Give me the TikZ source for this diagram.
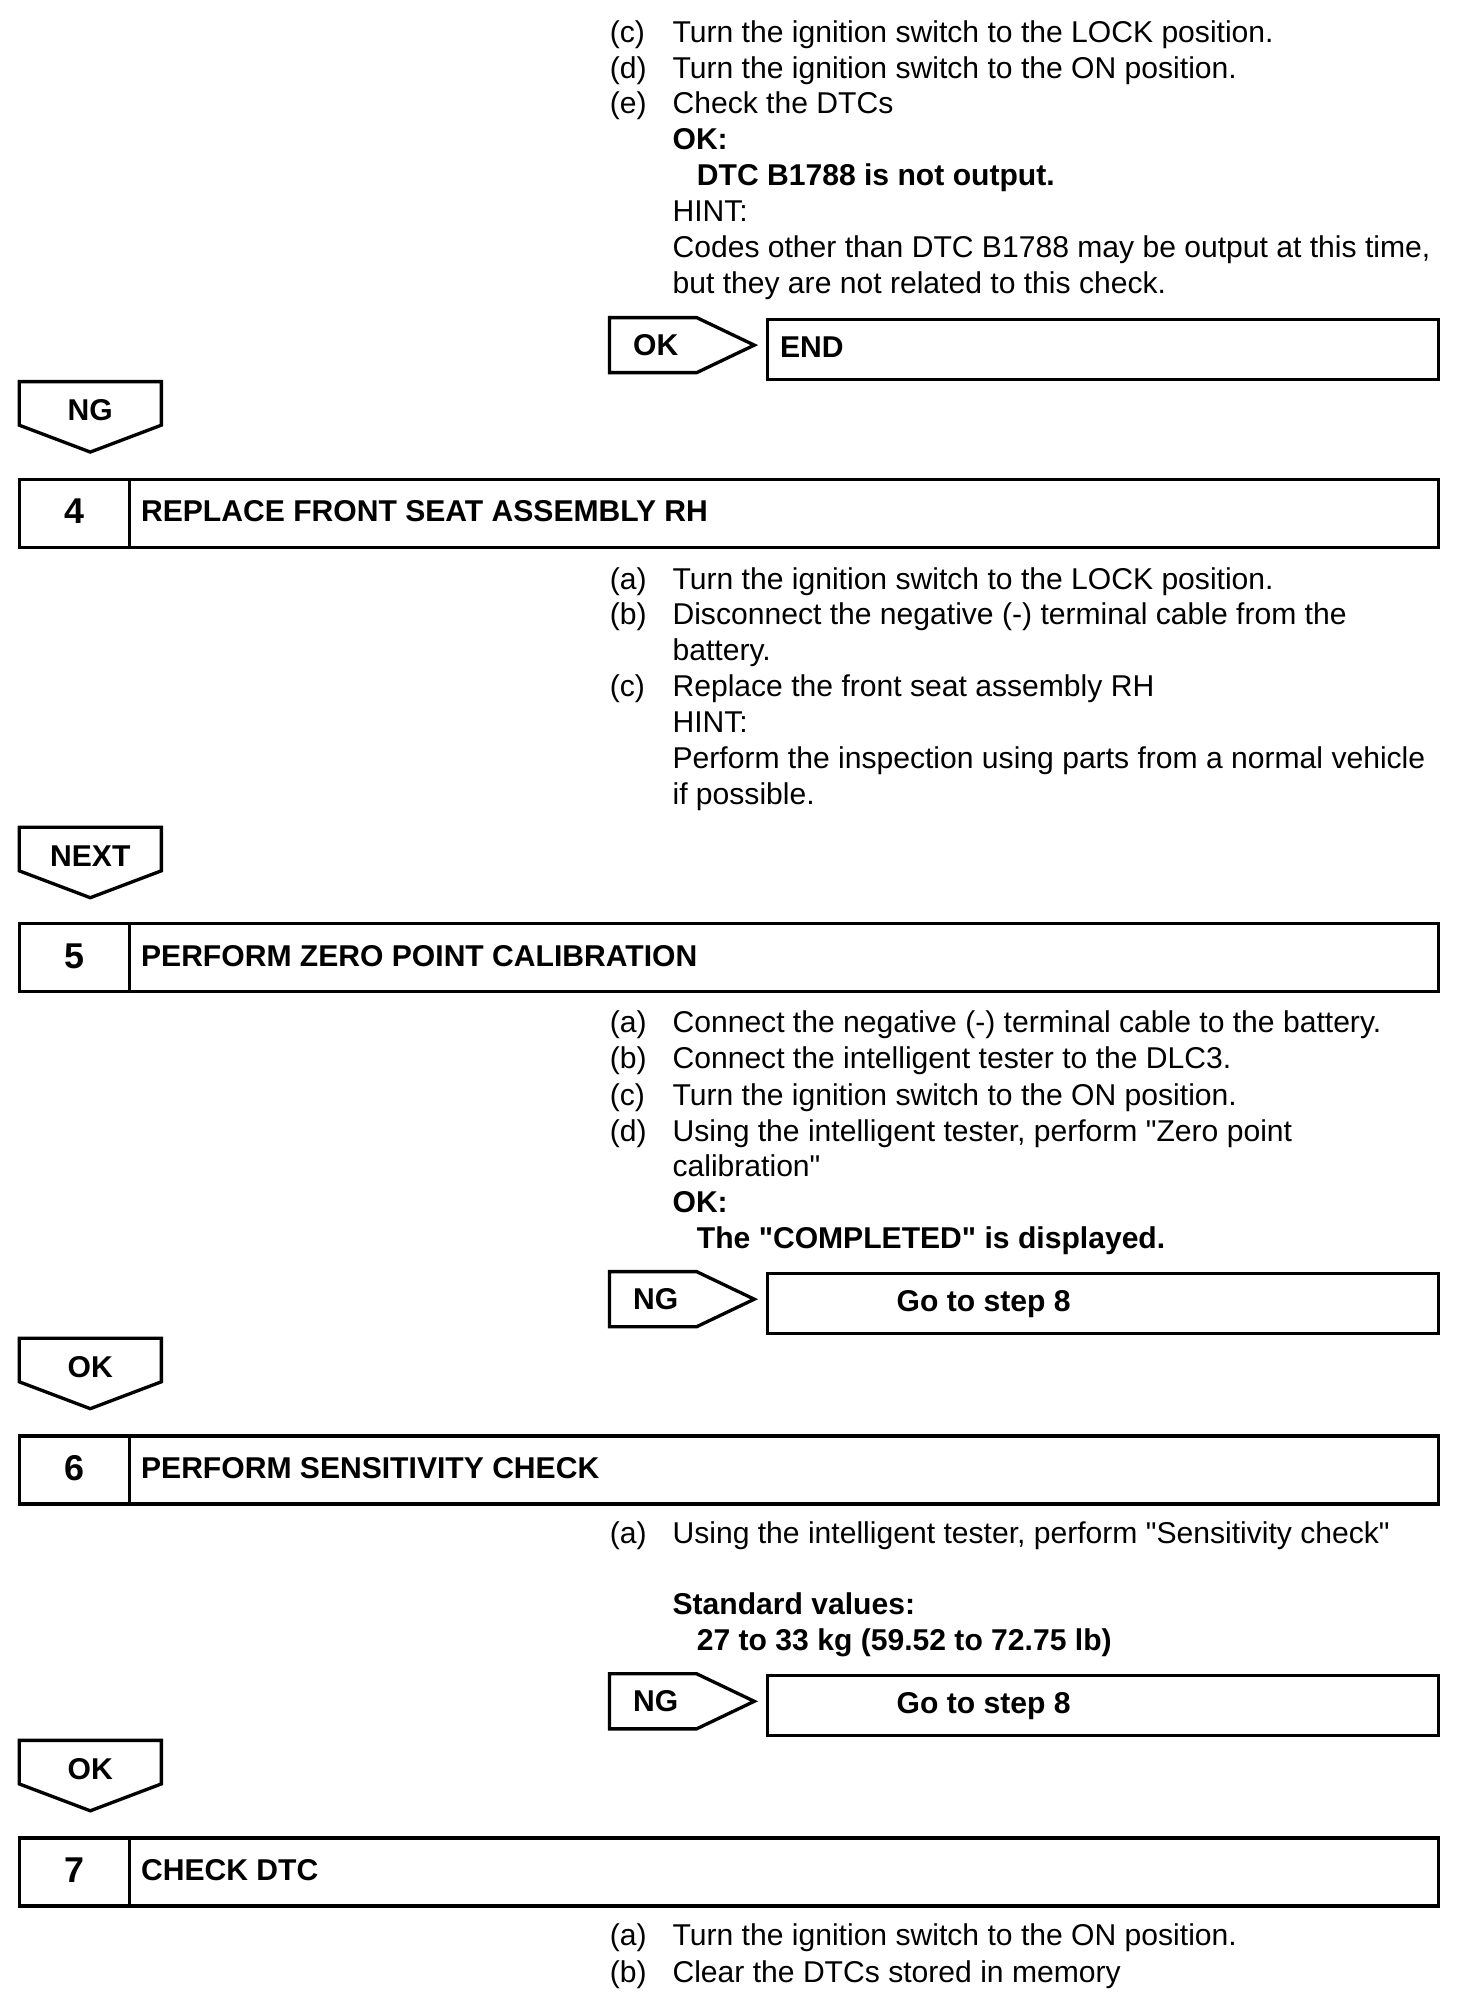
\documentclass[tikz,border=0pt]{standalone}
\usepackage{fontspec}
\setmainfont{Liberation Sans}[Ligatures=TeXOff]
\newcommand\DownTag[3]{%
  \draw[lw] (15,#2) -- (126,#2) -- (126,{#2+34}) -- (70.5,{#2+55}) -- (15,{#2+34}) -- cycle;
  \node[tag, anchor=base] (#1) at (70.5,{#2+30.5}) {#3};
}
\newcommand\RightTag[5]{%
  \draw[lw] (476,#2) -- (544,#2) -- (589,{#2+21.5}) -- (544,{#2+43}) -- (476,{#2+43}) -- cycle;
  \node[tag, anchor=base] (#1t) at (512,{#2+29.5}) {#3};
  \node[draw, lw, anchor=north west, minimum width=524pt, minimum height=47pt, inner sep=0pt] (#1b) at (598,#2) {};
  \node[tag, anchor=base west] (#1l) at (#5,{#2+31}) {#4};
}
\newcommand\StepBox[4]{%
  \node[draw, lw, anchor=north west, minimum width=86pt, minimum height=53pt, inner sep=0pt] (#1n) at (14,#2) {};
  \node[draw, lw, anchor=north west, minimum width=1022pt, minimum height=53pt, inner sep=0pt] (#1t) at (100,#2) {};
  \node[numtag, anchor=base] (#1num) at (58,{#2+36}) {#3};
  \node[tag, anchor=base west] (#1lbl) at (110,{#2+34.5}) {#4};
}
\begin{document}
\begin{tikzpicture}[x=1pt,y=-1pt,
  font=\fontsize{23.5}{28.3}\selectfont,
  lw/.style={line width=2.6pt, line join=miter},
  txt/.style={anchor=base west, inner sep=0pt},
  btxt/.style={anchor=base west, inner sep=0pt, font=\fontsize{23.5}{28.3}\selectfont\bfseries},
  tag/.style={inner sep=0pt, font=\fontsize{23.5}{28.3}\selectfont\bfseries},
  numtag/.style={inner sep=0pt, font=\fontsize{28}{32}\selectfont\bfseries}]
\useasboundingbox (0,0) rectangle (1149,1568);

% ---- block A
\node[txt] (a1l) at (476,33) {(c)};
\node[txt] (a1) at (525,33) {Turn the ignition switch to the LOCK position.};
\node[txt] (a2l) at (476,61) {(d)};
\node[txt] (a2) at (525,61) {Turn the ignition switch to the ON position.};
\node[txt] (a3l) at (476,89) {(e)};
\node[txt] (a3) at (525,89) {Check the DTCs};
\node[btxt] (a4) at (525,117) {OK:};
\node[btxt] (a5) at (544,145) {DTC B1788 is not output.};
\node[txt] (a6) at (525,173) {HINT:};
\node[txt] (a7) at (525,201) {Codes other than DTC B1788 may be output at this time,};
\node[txt] (a8) at (525,229) {but they are not related to this check.};

\RightTag{r1}{248}{OK}{END}{609}

\DownTag{d1}{298}{NG}
\StepBox{s4}{373}{4}{REPLACE FRONT SEAT ASSEMBLY RH}

% ---- block B
\node[txt] (b1l) at (476,460) {(a)};
\node[txt] (b1) at (525,460) {Turn the ignition switch to the LOCK position.};
\node[txt] (b2l) at (476,488) {(b)};
\node[txt] (b2) at (525,488) {Disconnect the negative (-) terminal cable from the};
\node[txt] (b3) at (525,516) {battery.};
\node[txt] (b4l) at (476,544) {(c)};
\node[txt] (b4) at (525,544) {Replace the front seat assembly RH};
\node[txt] (b5) at (525,572) {HINT:};
\node[txt] (b6) at (525,600) {Perform the inspection using parts from a normal vehicle};
\node[txt] (b7) at (525,628) {if possible.};

\DownTag{d2}{646}{NEXT}
\StepBox{s5}{720}{5}{PERFORM ZERO POINT CALIBRATION}

% ---- block C
\node[txt] (c1l) at (476,806) {(a)};
\node[txt] (c1) at (525,806) {Connect the negative (-) terminal cable to the battery.};
\node[txt] (c2l) at (476,834) {(b)};
\node[txt] (c2) at (525,834) {Connect the intelligent tester to the DLC3.};
\node[txt] (c3l) at (476,863) {(c)};
\node[txt] (c3) at (525,863) {Turn the ignition switch to the ON position.};
\node[txt] (c4l) at (476,891) {(d)};
\node[txt] (c4) at (525,891) {Using the intelligent tester, perform "Zero point};
\node[txt] (c5) at (525,919) {calibration"};
\node[btxt] (c6) at (525,947) {OK:};
\node[btxt] (c7) at (544,975) {The "COMPLETED" is displayed.};

\RightTag{r2}{993}{NG}{Go to step 8}{700}

\DownTag{d3}{1045}{OK}
\StepBox{s6}{1120}{6}{PERFORM SENSITIVITY CHECK}

% ---- block D
\node[txt] (e1l) at (476,1205) {(a)};
\node[txt] (e1) at (525,1205) {Using the intelligent tester, perform "Sensitivity check"};
\node[btxt] (e2) at (525,1261) {Standard values:};
\node[btxt] (e3) at (544,1289) {27 to 33 kg (59.52 to 72.75 lb)};

\RightTag{r3}{1307}{NG}{Go to step 8}{700}

\DownTag{d4}{1359}{OK}
\StepBox{s7}{1434}{7}{CHECK DTC}

% ---- block E
\node[txt] (f1l) at (476,1519) {(a)};
\node[txt] (f1) at (525,1519) {Turn the ignition switch to the ON position.};
\node[txt] (f2l) at (476,1548) {(b)};
\node[txt] (f2) at (525,1548) {Clear the DTCs stored in memory};
\end{tikzpicture}
\end{document}
